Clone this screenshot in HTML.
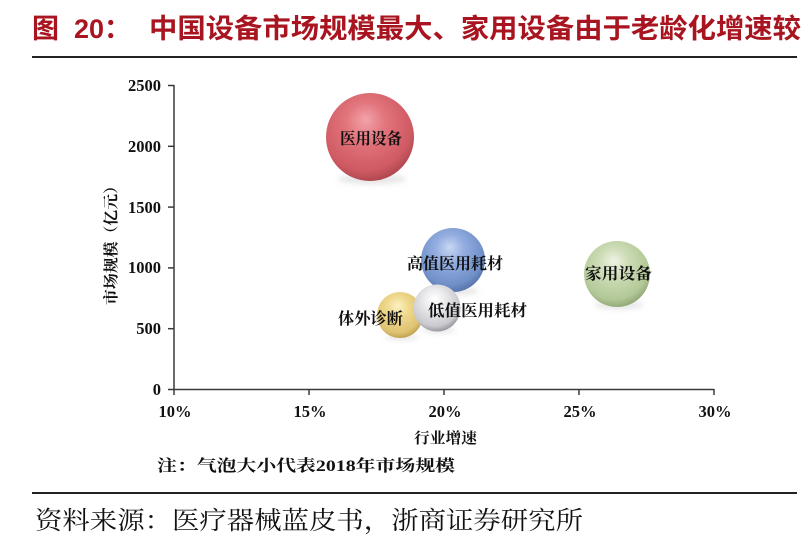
<!DOCTYPE html>
<html><head><meta charset="utf-8"><style>
html,body{margin:0;padding:0;background:#fff;}
svg{display:block;}
.t{font-family:"Liberation Sans","Noto Sans CJK SC",sans-serif;font-weight:700;fill:#a8141f;}
.s{font-family:"Liberation Serif","Noto Serif CJK SC",serif;}
.b{font-family:"Liberation Serif","Noto Serif CJK SC",serif;font-weight:700;fill:#111;}
</style></head><body>
<svg width="810" height="559" viewBox="0 0 810 559" xmlns="http://www.w3.org/2000/svg">
<defs>
<filter id="blur" x="-50%" y="-50%" width="200%" height="200%"><feGaussianBlur stdDeviation="3"/></filter>
<radialGradient id="gr" cx="0.45" cy="0.38" r="0.65" fx="0.45" fy="0.3">
<stop offset="0" stop-color="#f3a3aa"/><stop offset="0.35" stop-color="#e2747c"/><stop offset="0.8" stop-color="#cf5a63"/><stop offset="1" stop-color="#a9434b"/></radialGradient>
<radialGradient id="gb" cx="0.45" cy="0.38" r="0.65" fx="0.45" fy="0.3">
<stop offset="0" stop-color="#c8d8f2"/><stop offset="0.35" stop-color="#93ade0"/><stop offset="0.8" stop-color="#7090c8"/><stop offset="1" stop-color="#5470a6"/></radialGradient>
<radialGradient id="gg" cx="0.45" cy="0.38" r="0.65" fx="0.45" fy="0.3">
<stop offset="0" stop-color="#eef3e4"/><stop offset="0.35" stop-color="#cddcb6"/><stop offset="0.8" stop-color="#b2c896"/><stop offset="1" stop-color="#8ca472"/></radialGradient>
<radialGradient id="gy" cx="0.45" cy="0.38" r="0.65" fx="0.45" fy="0.3">
<stop offset="0" stop-color="#fbf0c4"/><stop offset="0.35" stop-color="#f0da8e"/><stop offset="0.8" stop-color="#dfc272"/><stop offset="1" stop-color="#bb9c4c"/></radialGradient>
<radialGradient id="gs" cx="0.45" cy="0.38" r="0.65" fx="0.45" fy="0.3">
<stop offset="0" stop-color="#ffffff"/><stop offset="0.35" stop-color="#ebebee"/><stop offset="0.8" stop-color="#c9c9ce"/><stop offset="1" stop-color="#8e8e96"/></radialGradient>
</defs>

<!-- Title -->
<text class="t" x="32" y="38" font-size="27">图</text>
<text class="t" x="74" y="38" font-size="27">20：</text>
<text class="t" x="149" y="38" font-size="27" textLength="652" lengthAdjust="spacingAndGlyphs">中国设备市场规模最大、家用设备由于老龄化增速较</text>
<line x1="32" y1="57" x2="797" y2="57" stroke="#222" stroke-width="2"/>

<!-- shadows -->
<g fill="#aaa" opacity="0.3" filter="url(#blur)">
<ellipse cx="372" cy="179" rx="34" ry="5"/>
<ellipse cx="455" cy="291" rx="24" ry="4"/>
<ellipse cx="619" cy="305" rx="25" ry="4"/>
<ellipse cx="402" cy="337" rx="17" ry="3"/>
<ellipse cx="439" cy="330" rx="17" ry="3"/>
</g>

<!-- bubbles -->
<circle cx="370" cy="137" r="44" fill="url(#gr)"/>
<circle cx="453" cy="260" r="32" fill="url(#gb)"/>
<circle cx="617" cy="274" r="33" fill="url(#gg)"/>
<circle cx="400" cy="315" r="23" fill="url(#gy)"/>
<circle cx="437" cy="308" r="23.5" fill="url(#gs)"/>

<!-- axes -->
<g stroke="#3a3a3a" stroke-width="1.5" fill="none">
<line x1="174" y1="85" x2="174" y2="390"/>
<line x1="174" y1="389.5" x2="714" y2="389.5"/>
<line x1="168" y1="85.5" x2="174" y2="85.5"/>
<line x1="168" y1="146.3" x2="174" y2="146.3"/>
<line x1="168" y1="207.1" x2="174" y2="207.1"/>
<line x1="168" y1="267.9" x2="174" y2="267.9"/>
<line x1="168" y1="328.7" x2="174" y2="328.7"/>
<line x1="168" y1="389.5" x2="174" y2="389.5"/>
<line x1="174" y1="389" x2="174" y2="395"/>
<line x1="309" y1="389" x2="309" y2="395"/>
<line x1="444" y1="389" x2="444" y2="395"/>
<line x1="579" y1="389" x2="579" y2="395"/>
<line x1="714" y1="389" x2="714" y2="395"/>
</g>

<!-- y tick labels -->
<g class="b" font-size="16.5" text-anchor="end">
<text x="161" y="91">2500</text>
<text x="161" y="152">2000</text>
<text x="161" y="213">1500</text>
<text x="161" y="273">1000</text>
<text x="161" y="334">500</text>
<text x="161" y="395">0</text>
</g>
<!-- x tick labels -->
<g class="b" font-size="16.5" text-anchor="middle">
<text x="175" y="417">10%</text>
<text x="310" y="417">15%</text>
<text x="445" y="417">20%</text>
<text x="580" y="417">25%</text>
<text x="715" y="417">30%</text>
</g>

<!-- axis titles -->
<text class="b" font-size="15" x="414" y="443" textLength="63" lengthAdjust="spacingAndGlyphs">行业增速</text>
<text class="b" font-size="15" transform="translate(116,305) rotate(-90)" textLength="127" lengthAdjust="spacingAndGlyphs">市场规模（亿元）</text>

<!-- bubble labels -->
<g class="b" font-size="16">
<text x="340" y="144" textLength="62" lengthAdjust="spacingAndGlyphs">医用设备</text>
<text x="407" y="269" textLength="96" lengthAdjust="spacingAndGlyphs">高值医用耗材</text>
<text x="585" y="279" textLength="67" lengthAdjust="spacingAndGlyphs">家用设备</text>
<text x="338" y="324" textLength="65" lengthAdjust="spacingAndGlyphs">体外诊断</text>
<text x="428" y="316" textLength="99" lengthAdjust="spacingAndGlyphs">低值医用耗材</text>
</g>

<!-- note -->
<text class="b" font-size="16" x="157" y="471" textLength="298" lengthAdjust="spacingAndGlyphs">注：气泡大小代表2018年市场规模</text>

<line x1="32" y1="493" x2="797" y2="493" stroke="#222" stroke-width="2"/>

<!-- source -->
<text class="s" font-size="25" x="35" y="529" fill="#111" textLength="548" lengthAdjust="spacingAndGlyphs">资料来源：医疗器械蓝皮书，浙商证券研究所</text>
</svg>
</body></html>
